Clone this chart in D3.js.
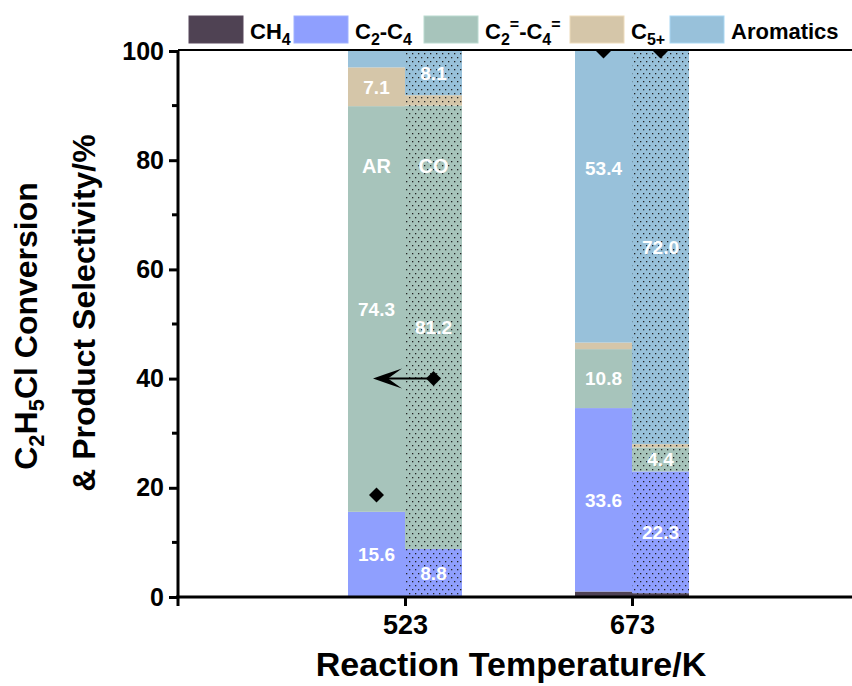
<!DOCTYPE html>
<html>
<head>
<meta charset="utf-8">
<script src="https://cdn.jsdelivr.net/npm/d3@7"></script>
<style>
  body { margin: 0; background: #fff; }
  text { font-family: "Liberation Sans", Arial, sans-serif; font-weight: bold; }
</style>
</head>
<body>
<svg id="chart" width="852" height="686"></svg>
<script>
// data
const temps = ['523', '673'];
const modes = ['AR', 'CO'];
const products = ['CH4', 'C2-C4', 'C2=-C4=', 'C5+', 'Aromatics'];
const colours = ['#4f4253', '#8f9ffe', '#a7c4bb', '#d5c6a9', '#98c1da'];

// selectivity (%) per bar, in product order
const selAR523 = [0.0, 15.6, 74.3, 7.1, 3.0];
const selCO523 = [0.0, 8.8, 81.2, 1.9, 8.1];
const selAR673 = [1.0, 33.6, 10.8, 1.2, 53.4];
const selCO673 = [0.7, 22.3, 4.4, 0.6, 72.0];

// C2H5Cl conversion (%)
const convAR = [18.7, 100];
const convCO = [40.0, 100];

const bars = [
  { temp: '523', mode: 'AR', values: selAR523, conv: convAR[0] },
  { temp: '523', mode: 'CO', values: selCO523, conv: convCO[0] },
  { temp: '673', mode: 'AR', values: selAR673, conv: convAR[1] },
  { temp: '673', mode: 'CO', values: selCO673, conv: convCO[1] }
];

const svg = d3.select('#chart');
const margin = { left: 178, top: 51, bottom: 597 };

const x = d3.scalePoint().domain(['', ...temps, ' ']).range([178, 859]);
const sub = d3.scaleBand().domain(modes).range([-57, 57]);
const y = d3.scaleLinear().domain([0, 100]).range([597, 51]);

// dotted fill for the CO bars
const defs = svg.append('defs');
const pat = defs.append('pattern')
  .attr('id', 'dots')
  .attr('patternUnits', 'userSpaceOnUse')
  .attr('width', 6).attr('height', 8);
pat.append('rect').attr('x', 1).attr('y', 1).attr('width', 1.3).attr('height', 1.3).attr('fill', '#222');
pat.append('rect').attr('x', 4).attr('y', 5).attr('width', 1.3).attr('height', 1.3).attr('fill', '#222');

defs.append('clipPath').attr('id', 'plot-clip')
  .append('rect').attr('x', 178).attr('y', 50).attr('width', 700).attr('height', 550);

const plot = svg.append('g').attr('clip-path', 'url(#plot-clip)');

// stacked segments
bars.forEach(b => {
  const stack = [];
  let acc = 0;
  b.values.forEach((v, i) => {
    stack.push({ product: products[i], y0: acc, y1: acc + v, v, i });
    acc += v;
  });
  b.stack = stack;
});

const x0 = b => x(b.temp) + sub(b.mode);

bars.forEach(b => {
  const g = plot.append('g');
  g.selectAll('rect.seg').data(b.stack).join('rect')
    .attr('class', 'seg')
    .attr('x', x0(b))
    .attr('width', sub.bandwidth())
    .attr('y', d => y(d.y1))
    .attr('height', d => y(d.y0) - y(d.y1))
    .attr('fill', d => colours[d.i]);
  if (b.mode === 'CO') {
    g.append('rect')
      .attr('x', x0(b))
      .attr('width', sub.bandwidth())
      .attr('y', y(100))
      .attr('height', y(0) - y(100))
      .attr('fill', 'url(#dots)');
  }
});

// value labels inside segments (only the bigger ones)
const labelShift = { '673-AR-Aromatics': 5.2 };
bars.forEach(b => {
  plot.selectAll(null).data(b.stack.filter(d => d.v >= 4)).join('text')
    .attr('x', x0(b) + sub.bandwidth() / 2)
    .attr('y', d => y((d.y0 + d.y1) / 2 + (labelShift[`${b.temp}-${b.mode}-${d.product}`] || 0)))
    .attr('dy', '0.36em')
    .attr('text-anchor', 'middle')
    .attr('fill', '#fff')
    .attr('font-size', 19)
    .text(d => d.v.toFixed(1));
});

// AR / CO tags on the 523 K bars
plot.selectAll(null).data(modes).join('text')
  .attr('x', d => x('523') + sub(d) + sub.bandwidth() / 2)
  .attr('y', y(79))
  .attr('dy', '0.36em')
  .attr('text-anchor', 'middle')
  .attr('fill', '#fff')
  .attr('font-size', 20)
  .text(d => d);

// conversion markers
const diamond = d3.symbol(d3.symbolSquare, 112);
plot.selectAll('path.conv').data(bars).join('path')
  .attr('class', 'conv')
  .attr('d', diamond)
  .attr('transform', b => `translate(${x0(b) + sub.bandwidth() / 2},${y(b.conv)}) rotate(45)`)
  .attr('fill', '#000');

// arrow pointing the conversion back to the left axis
const co523 = bars[1];
const ay = y(co523.conv);
const ax1 = x0(co523) + sub.bandwidth() / 2;
const tip = x('523') - 32;
plot.append('line')
  .attr('x1', ax1).attr('x2', tip + 10)
  .attr('y1', ay).attr('y2', ay)
  .attr('stroke', '#000').attr('stroke-width', 2);
plot.append('path')
  .attr('d', `M${tip},${ay} Q${tip + 14},${ay - 5} ${tip + 29},${ay - 10} L${tip + 15},${ay} L${tip + 29},${ay + 10} Q${tip + 14},${ay + 5} ${tip},${ay} Z`)
  .attr('fill', '#000');

// axes
const yAxis = svg.append('g')
  .attr('transform', `translate(${margin.left},0)`)
  .call(d3.axisLeft(y).tickValues(d3.range(0, 101, 20)).tickSize(9).tickPadding(5).tickFormat(d3.format('d')));
yAxis.select('.domain').remove();
yAxis.selectAll('.tick line').attr('stroke-width', 3);
yAxis.selectAll('.tick text').attr('font-size', 25).attr('font-family', null);

svg.append('g')
  .selectAll('line').data(d3.range(10, 100, 20)).join('line')
  .attr('x1', 172).attr('x2', 178)
  .attr('y1', d => y(d)).attr('y2', d => y(d))
  .attr('stroke', '#000').attr('stroke-width', 3);

svg.append('line')
  .attr('x1', 178).attr('x2', 178).attr('y1', 50).attr('y2', 606)
  .attr('stroke', '#000').attr('stroke-width', 3);

const xAxis = svg.append('g')
  .attr('transform', 'translate(0,597)')
  .call(d3.axisBottom(x).tickValues(temps).tickSize(9).tickPadding(9));
xAxis.select('.domain').remove();
xAxis.selectAll('.tick line').attr('stroke-width', 3);
xAxis.selectAll('.tick text').attr('font-size', 27).attr('font-family', null);

svg.append('line')
  .attr('x1', 176).attr('x2', 852).attr('y1', 597).attr('y2', 597)
  .attr('stroke', '#000').attr('stroke-width', 3);
svg.append('line')
  .attr('x1', 178).attr('x2', 852).attr('y1', 50).attr('y2', 50)
  .attr('stroke', '#000').attr('stroke-width', 2);

// axis titles
svg.append('text')
  .attr('x', 511).attr('y', 676)
  .attr('text-anchor', 'middle')
  .attr('font-size', 34)
  .text('Reaction Temperature/K');

const yTitle = svg.append('text')
  .attr('transform', 'translate(37,326) rotate(-90)')
  .attr('text-anchor', 'middle')
  .attr('font-size', 32);
yTitle.append('tspan').text('C');
yTitle.append('tspan').attr('font-size', 22).attr('dy', 7).text('2');
yTitle.append('tspan').attr('dy', -7).text('H');
yTitle.append('tspan').attr('font-size', 22).attr('dy', 7).text('5');
yTitle.append('tspan').attr('dy', -7).text('Cl Conversion');

svg.append('text')
  .attr('transform', 'translate(95,313) rotate(-90)')
  .attr('text-anchor', 'middle')
  .attr('font-size', 32)
  .text('& Product Selectivity/%');

// legend
const legendParts = [
  [['C', 0], ['H', 0], ['4', 1]],
  [['C', 0], ['2', 1], ['-C', 0], ['4', 1]],
  [['C', 0], ['2', 1], ['=', 2], ['-C', 0], ['4', 1], ['=', 2]],
  [['C', 0], ['5+', 1]],
  [['Aromatics', 0]]
];
const legendX = [189, 294, 424, 570, 670];
const legend = svg.append('g');
products.forEach((p, i) => {
  const g = legend.append('g').attr('transform', `translate(${legendX[i]},16)`);
  g.append('rect')
    .attr('width', 54).attr('height', 27)
    .attr('fill', colours[i])
    .attr('stroke', d3.color(colours[i]).brighter(0.3)).attr('stroke-width', 1);
  const t = g.append('text').attr('x', 61).attr('y', 23).attr('font-size', 22);
  let shift = 0;
  legendParts[i].forEach(([s, kind]) => {
    const target = kind === 0 ? 0 : kind === 1 ? 6 : -9;
    t.append('tspan')
      .attr('font-size', kind === 0 ? 22 : 16)
      .attr('dy', target - shift)
      .text(s);
    shift = target;
  });
});
</script>
</body>
</html>
